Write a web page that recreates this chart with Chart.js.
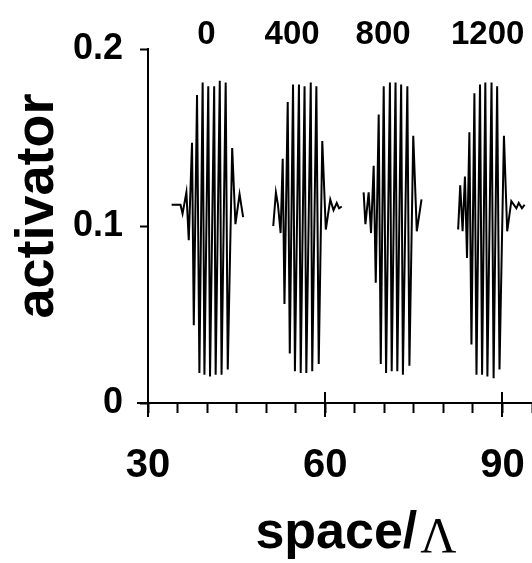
<!DOCTYPE html>
<html>
<head>
<meta charset="utf-8">
<script src="https://cdn.jsdelivr.net/npm/chart.js@4.4.0/dist/chart.umd.min.js"></script>
<style>
  html, body { margin: 0; padding: 0; background: #fff; }
  #wrap { width: 532px; height: 563px; }
</style>
</head>
<body>
<div id="wrap"><canvas id="activatorChart" width="532" height="563"></canvas></div>
<script>
// activator profiles at four times
const t0X = [34.0, 35.5, 35.85, 36.5, 36.9, 37.45, 37.75, 38.3, 38.7, 39.25, 39.55, 40.2, 40.5, 41.2, 41.45, 42.15, 42.45, 43.15, 43.5, 44.25, 44.8, 45.5, 46.1];
const t0Y = [0.112, 0.112, 0.107, 0.119, 0.092, 0.147, 0.044, 0.174, 0.017, 0.181, 0.016, 0.179, 0.015, 0.179, 0.016, 0.182, 0.016, 0.181, 0.019, 0.144, 0.101, 0.118, 0.105];

const t400X = [51.2, 51.65, 52.0, 52.45, 52.8, 53.1, 53.65, 54.0, 54.55, 54.87, 55.55, 55.85, 56.5, 56.8, 57.55, 57.8, 58.5, 58.9, 59.5, 60.1, 60.85, 61.4, 61.95, 62.35, 62.8];
const t400Y = [0.100, 0.119, 0.112, 0.096, 0.138, 0.056, 0.170, 0.028, 0.180, 0.018, 0.180, 0.017, 0.179, 0.017, 0.181, 0.018, 0.179, 0.022, 0.148, 0.098, 0.115, 0.109, 0.113, 0.110, 0.111];

const t800X = [66.5, 66.8, 67.35, 67.75, 68.2, 68.55, 69.05, 69.4, 69.9, 70.3, 70.95, 71.25, 71.9, 72.2, 72.85, 73.15, 73.9, 74.25, 74.9, 75.5, 76.3];
const t800Y = [0.119, 0.101, 0.119, 0.096, 0.134, 0.068, 0.163, 0.022, 0.179, 0.017, 0.181, 0.018, 0.181, 0.018, 0.180, 0.016, 0.179, 0.021, 0.151, 0.097, 0.115];

const t1200X = [82.5, 82.85, 83.25, 83.65, 84.0, 84.4, 84.75, 85.25, 85.6, 86.2, 86.55, 87.1, 87.45, 88.15, 88.5, 89.1, 89.5, 90.25, 90.8, 91.5, 92.35, 92.75, 93.3, 93.75];
const t1200Y = [0.098, 0.123, 0.097, 0.128, 0.082, 0.153, 0.033, 0.175, 0.016, 0.180, 0.016, 0.181, 0.015, 0.181, 0.014, 0.179, 0.019, 0.151, 0.097, 0.114, 0.110, 0.113, 0.110, 0.112];

// time labels above each profile (x in space units)
const timeLabels = ['0', '400', '800', '1200'];
const timeLabelX = [39.9, 54.4, 69.8, 87.5];
const timeLabelY = 0.208;

const majorX = [30, 60, 90];

const profiles = [[t0X, t0Y], [t400X, t400Y], [t800X, t800Y], [t1200X, t1200Y]];

const sansBold = '"Liberation Sans", Arial, sans-serif';

const extras = {
    id: 'extras',
    afterDraw(chart) {
        const { ctx, scales: { x, y } } = chart;
        const y0 = y.getPixelForValue(0);
        ctx.save();
        ctx.strokeStyle = '#000';
        ctx.lineWidth = 2;
        ctx.beginPath();
        // long major ticks crossing the axis
        majorX.forEach(v => {
            const px = Math.round(x.getPixelForValue(v));
            ctx.moveTo(px, y0 - 11);
            ctx.lineTo(px, y0 + 14);
        });
        ctx.moveTo(x.left - 11, y0);
        ctx.lineTo(x.left, y0);
        ctx.stroke();

        ctx.fillStyle = '#000';
        ctx.font = 'bold 33px ' + sansBold;
        ctx.textAlign = 'center';
        ctx.textBaseline = 'middle';
        timeLabels.forEach((t, i) => {
            ctx.fillText(t, x.getPixelForValue(timeLabelX[i]), y.getPixelForValue(timeLabelY));
        });

        // y title
        ctx.save();
        ctx.translate(53, 206);
        ctx.rotate(-Math.PI / 2);
        ctx.font = 'bold 54px ' + sansBold;
        ctx.textBaseline = 'alphabetic';
        ctx.fillText('activator', 0, 0);
        ctx.restore();

        // x title: space/Λ
        ctx.textAlign = 'left';
        ctx.textBaseline = 'alphabetic';
        const partA = 'space/';
        ctx.font = 'bold 52px ' + sansBold;
        const wA = ctx.measureText(partA).width;
        ctx.font = '50px "Liberation Serif", "Times New Roman", serif';
        const wB = ctx.measureText('\u039B').width;
        const start = 356 - (wA + wB + 3) / 2;
        ctx.font = 'bold 52px ' + sansBold;
        ctx.fillText(partA, start, 548);
        ctx.font = '50px "Liberation Serif", "Times New Roman", serif';
        ctx.fillText('\u039B', start + wA + 3, 552);
        ctx.restore();
    }
};

const ctx = document.getElementById('activatorChart').getContext('2d');
new Chart(ctx, {
    type: 'line',
    data: {
        datasets: profiles.map(([xs, ys], i) => ({
            label: 't=' + timeLabels[i],
            data: xs.map((v, k) => ({ x: v, y: ys[k] })),
            borderColor: '#000',
            borderWidth: 2,
            pointRadius: 0,
            tension: 0,
            fill: false
        }))
    },
    options: {
        responsive: false,
        animation: false,
        layout: { padding: { top: 49, left: 0, right: 0, bottom: 0 } },
        plugins: { legend: { display: false }, tooltip: { enabled: false } },
        scales: {
            x: {
                type: 'linear',
                position: 'bottom',
                min: 30,
                max: 95,
                afterFit(scale) { scale.height = 160; },
                border: { display: true, color: '#000', width: 2 },
                grid: { drawOnChartArea: false, drawTicks: true, tickLength: 10, tickColor: '#000', tickWidth: 2 },
                ticks: {
                    stepSize: 5,
                    autoSkip: false,
                    maxRotation: 0,
                    padding: 0,
                    color: '#000',
                    font: { family: sansBold, weight: 'bold', size: 40, lineHeight: '106px' },
                    callback: v => (v % 30 === 0 ? String(v) : '')
                }
            },
            y: {
                type: 'linear',
                min: 0,
                max: 0.2,
                afterFit(scale) { scale.width = 148; },
                border: { display: true, color: '#000', width: 2 },
                grid: { drawOnChartArea: false, drawTicks: true, tickLength: 8, tickColor: '#000', tickWidth: 2 },
                ticks: {
                    stepSize: 0.1,
                    padding: 17,
                    color: '#000',
                    font: { family: sansBold, weight: 'bold', size: 36 },
                    callback: v => (v === 0 ? '0' : v.toFixed(1))
                }
            }
        }
    },
    plugins: [extras]
});
</script>
</body>
</html>
